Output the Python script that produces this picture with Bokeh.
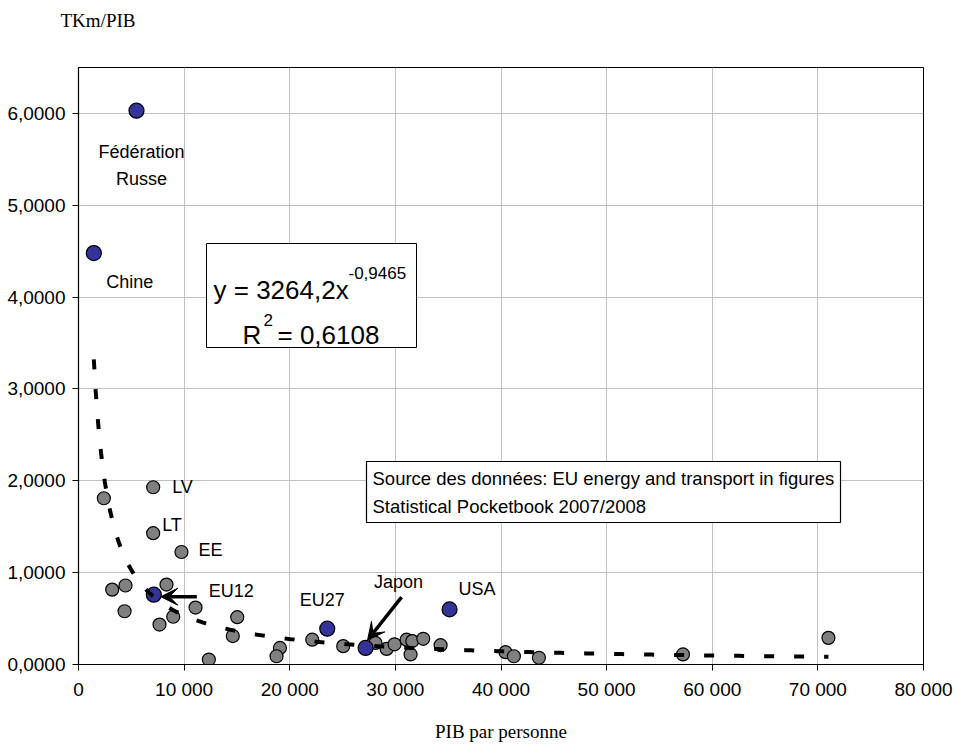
from bokeh.plotting import figure
from bokeh.models import Label, Arrow, VeeHead, BoxAnnotation, FixedTicker, Range1d, Title
from bokeh.embed import file_html
from bokeh.resources import INLINE
import numpy as np

# ---------------- data ----------------
gray_x = [2400, 7070, 7070, 9750, 3190, 4450, 8330, 4360, 11080, 8970, 7670,
          15030, 14610, 12340, 19070, 18750, 22130, 25060, 28120, 29170, 29920,
          31060, 31600, 31440, 32640, 34280, 40430, 41220, 43590, 57230, 71000]
gray_y = [1.81, 1.93, 1.43, 1.225, 0.815, 0.86, 0.87, 0.58, 0.62, 0.52, 0.435,
          0.515, 0.31, 0.054, 0.18, 0.09, 0.27, 0.20, 0.235, 0.17, 0.22,
          0.27, 0.255, 0.11, 0.28, 0.21, 0.134, 0.09, 0.073, 0.11, 0.29]
gray_names = ["", "LV", "LT", "EE"] + [""] * 27

blue_names = ["Fédération Russe", "Chine", "EU12", "EU27", "Japon", "USA"]
blue_x = [5490, 1450, 7130, 23550, 27180, 35130]
blue_y = [6.03, 4.48, 0.76, 0.39, 0.18, 0.60]

trend_a = 3264.2
trend_b = -0.9465
eq_text = "y = 3264,2x"
eq_exp = "-0,9465"
r2_text = "= 0,6108"

x_ticks = [0, 10000, 20000, 30000, 40000, 50000, 60000, 70000, 80000]
x_tick_labels = ["0", "10 000", "20 000", "30 000", "40 000", "50 000",
                 "60 000", "70 000", "80 000"]
y_ticks = [0, 1, 2, 3, 4, 5, 6]
y_tick_labels = ["0,0000", "1,0000", "2,0000", "3,0000", "4,0000", "5,0000", "6,0000"]

source_lines = ["Source des données: EU energy and transport in figures",
                "Statistical Pocketbook 2007/2008"]
y_title = "TKm/PIB"
x_title = "PIB par personne"

# ---------------- figure ----------------
X_MAX, Y_MAX = 80000, 6.5
FW, FH = 845, 598  # frame size in px
XPX = X_MAX / FW
YPX = Y_MAX / FH

p = figure(width=955, height=744, output_backend="svg", toolbar_location=None,
           x_range=Range1d(0, X_MAX), y_range=Range1d(0, Y_MAX),
           min_border_left=78, min_border_right=32, min_border_top=67,
           min_border_bottom=79, background_fill_color="white",
           border_fill_color="white", title=None)
p.outline_line_color = "black"
p.outline_line_width = 1

for ax in (p.xaxis[0], p.yaxis[0]):
    ax.axis_line_color = "black"
    ax.axis_line_width = 1.2
    ax.major_tick_line_color = "black"
    ax.major_tick_out = 6
    ax.major_tick_in = 0
    ax.minor_tick_out = 0
    ax.minor_tick_in = 0
    ax.major_label_text_font = "Liberation Sans"
    ax.major_label_text_font_size = "19px"
    ax.major_label_text_color = "black"

p.xaxis.ticker = FixedTicker(ticks=x_ticks)
p.xaxis.major_label_overrides = dict(zip(x_ticks, x_tick_labels))
p.xaxis.major_label_standoff = 8
p.xaxis.axis_label = x_title
p.xaxis.axis_label_text_font = "Liberation Serif"
p.xaxis.axis_label_text_font_size = "19px"
p.xaxis.axis_label_text_font_style = "normal"
p.xaxis.axis_label_text_color = "black"
p.xaxis.axis_label_standoff = 18

p.yaxis.ticker = FixedTicker(ticks=y_ticks)
p.yaxis.major_label_overrides = dict(zip(y_ticks, y_tick_labels))
p.yaxis.major_label_standoff = 7

p.xgrid.ticker = FixedTicker(ticks=x_ticks)
p.ygrid.ticker = FixedTicker(ticks=y_ticks)
p.grid.grid_line_color = "#c0c0c0"
p.grid.grid_line_width = 1

# y-axis title above the frame (trailing empty line lifts it to the top)
p.add_layout(Title(text=y_title + "\n ", align="left", offset=-18,
                   text_line_height=1.5,
                   text_font="Liberation Serif", text_font_size="19px",
                   text_font_style="normal", text_color="black"), "above")

# ---------------- points ----------------
p.scatter(gray_x, gray_y, size=13, fill_color="#808080", line_color="black",
          line_width=1.2)
p.scatter(blue_x, blue_y, size=15, fill_color="#333399", line_color="black",
          line_width=1.2)

# ---------------- trend line (power fit shown in chart) ----------------
all_x = np.array(gray_x + blue_x, dtype=float)
tx = np.linspace(all_x.min(), all_x.max(), 400)
ty = trend_a * tx ** trend_b
p.line(tx, ty, line_color="black", line_width=4, line_dash="10 20", line_cap="butt")

# ---------------- point labels ----------------
LBL = dict(text_font="Liberation Sans", text_font_size="18px", text_color="black")

def point_label(x, y, text, dx, dy, align="left"):
    p.add_layout(Label(x=x, y=y, text=text, x_offset=dx, y_offset=dy,
                       text_align=align, text_baseline="middle", **LBL))

bx = dict(zip(blue_names, blue_x))
by = dict(zip(blue_names, blue_y))
rus = "Fédération Russe"
point_label(bx[rus], by[rus], "Fédération", 5, -41, "center")
point_label(bx[rus], by[rus], "Russe", 5, -68, "center")
point_label(bx["Chine"], by["Chine"], "Chine", 36, -29, "center")
point_label(bx["EU12"], by["EU12"], "EU12", 55, 4, "left")
point_label(bx["EU27"], by["EU27"], "EU27", -5, 29, "center")
point_label(bx["Japon"], by["Japon"], "Japon", 33, 66, "center")
point_label(bx["USA"], by["USA"], "USA", 9, 20, "left")

gx = {n: x for n, x in zip(gray_names, gray_x) if n}
gy = {n: y for n, y in zip(gray_names, gray_y) if n}
point_label(gx["LV"], gy["LV"], "LV", 19, 0, "left")
point_label(gx["LT"], gy["LT"], "LT", 9, 8, "left")
point_label(gx["EE"], gy["EE"], "EE", 17, 2, "left")

# arrows
def arrow_to(x, y, sdx, sdy, edx, edy):
    p.add_layout(Arrow(end=VeeHead(size=17, fill_color="black", line_color="black"),
                       x_start=x + sdx * XPX, y_start=y + sdy * YPX,
                       x_end=x + edx * XPX, y_end=y + edy * YPX,
                       line_color="black", line_width=3.5))

arrow_to(bx["EU12"], by["EU12"], 43, -2, 7, -2)
arrow_to(bx["Japon"], by["Japon"], 36, 51, 2, 8)

# ---------------- boxes & texts (frame-relative screen coords) ----------------
FL, FB = 78, 665  # frame left / bottom in page px
def sx(px):
    return px - FL
def sy(py):
    return FB - py

def stext(px, py, text, size, font="Liberation Sans", align="left", baseline="alphabetic"):
    p.add_layout(Label(x=sx(px), y=sy(py), x_units="screen", y_units="screen",
                       text=text, text_font=font, text_font_size=size,
                       text_align=align, text_baseline=baseline, text_color="black"))

# equation box
p.add_layout(BoxAnnotation(left=sx(206), right=sx(416), top=sy(244), bottom=sy(348),
                           left_units="screen", right_units="screen",
                           top_units="screen", bottom_units="screen",
                           fill_color="white", fill_alpha=1.0,
                           line_color="black", line_width=1, line_alpha=1.0))
stext(213, 290, eq_text, "26px")
stext(348, 273, eq_exp, "17px")
stext(242, 335, "R", "26px")
stext(263, 320, "2", "17px")
stext(277, 335, r2_text, "26px")

# source box
p.add_layout(BoxAnnotation(left=sx(366), right=sx(840), top=sy(462), bottom=sy(523),
                           left_units="screen", right_units="screen",
                           top_units="screen", bottom_units="screen",
                           fill_color="white", fill_alpha=1.0,
                           line_color="black", line_width=1.2, line_alpha=1.0))
stext(372, 479, source_lines[0], "18.5px", baseline="middle")
stext(372, 507, source_lines[1], "18.5px", baseline="middle")

open("out.html", "w").write(file_html(p, INLINE))
